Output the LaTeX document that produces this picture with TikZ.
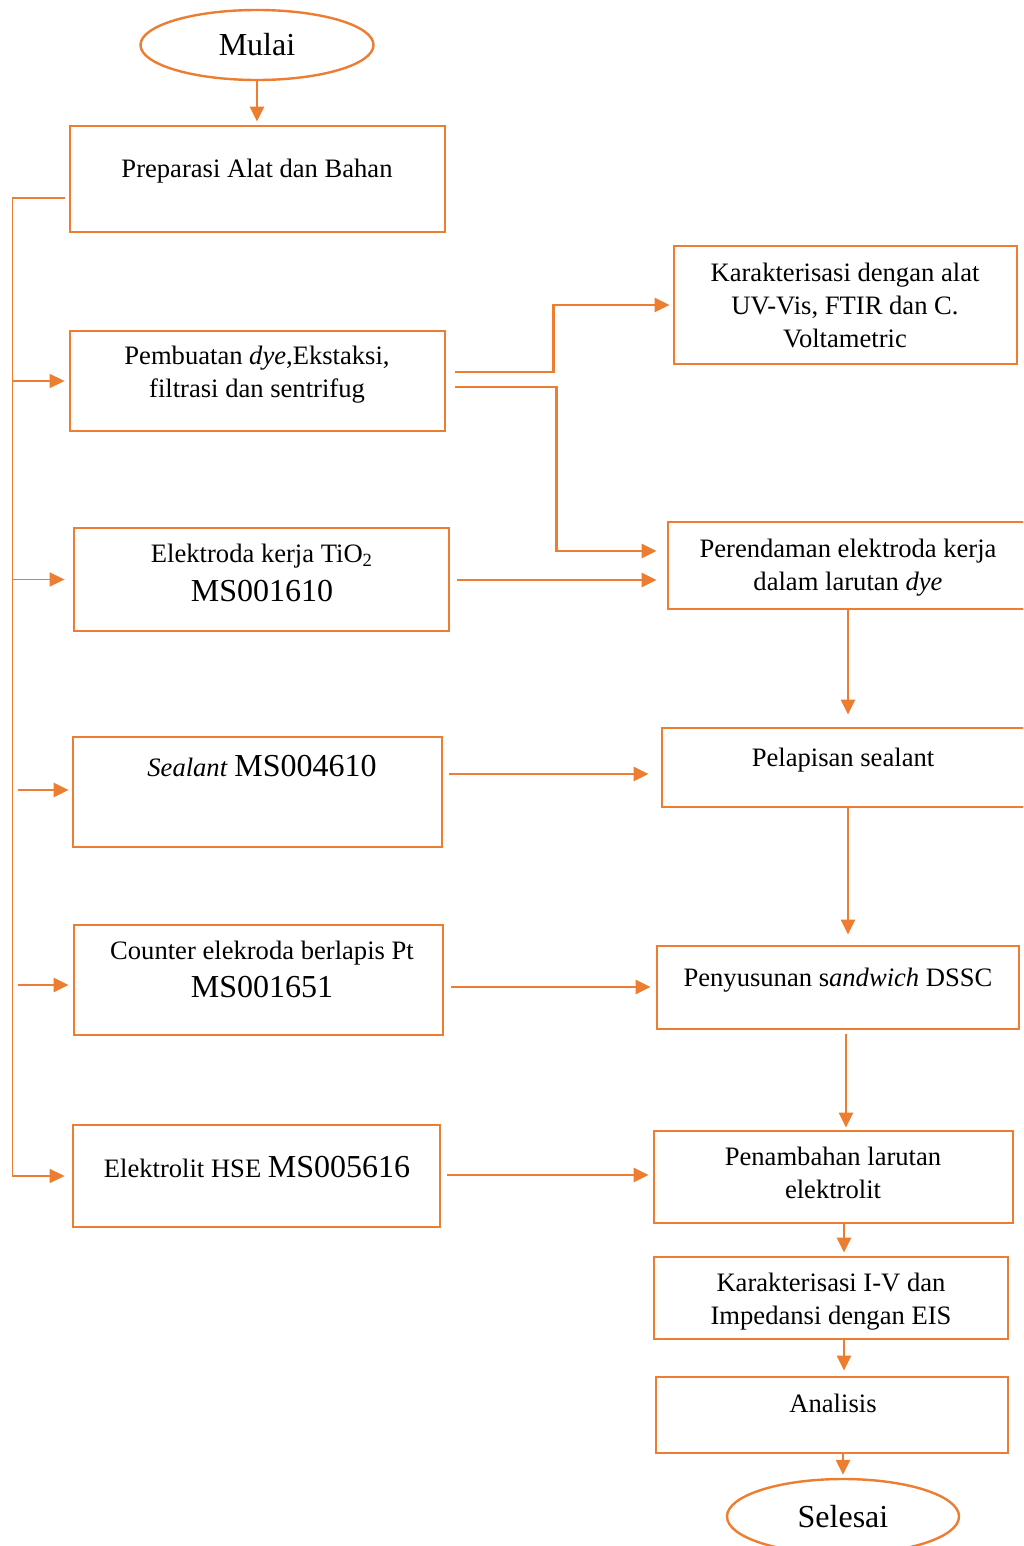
\documentclass[tikz,border=0pt]{standalone}
\usepackage{fontspec}
\setmainfont{Liberation Serif}
\usepackage{tikz}
\usetikzlibrary{positioning,arrows.meta,shapes.geometric,calc}
\definecolor{flowclr}{RGB}{237,125,49}
\newcommand{\msno}[1]{{\fontsize{16}{18}\selectfont #1}}
\tikzset{
    box/.style 2 args={rectangle,draw=flowclr,line width=1.4pt,minimum width=#1,minimum height=#2,inner sep=0pt},
    term/.style={ellipse,draw=flowclr,line width=1.2pt,minimum width=116.5pt,inner sep=0pt,font=\fontsize{16}{18}\selectfont},
    txt/.style={align=center,inner sep=0pt,font=\fontsize{13.3}{16.5}\selectfont},
    arr/.style={draw=flowclr,line width=1.2pt,-{Triangle[length=7.5pt,width=7pt]}},
    bus/.style={arr,line width=0.8pt},
}

\begin{document}
\begin{tikzpicture}[x=0.5pt,y=-0.5pt]
\useasboundingbox (0,0) rectangle (1023,1546);
\clip (0,0) rectangle (1023,1546);

% left column
\node[term,minimum height=35pt] (start) at (257,45) {Mulai};
\node[box={187.5pt}{53pt}]   (prep) at (257.5,179)  {};
\node[box={187.5pt}{50pt}]   (dye)  at (257.5,381)  {};
\node[box={187.5pt}{51.5pt}] (tio)  at (261.5,579.5) {};
\node[box={184.5pt}{55pt}]   (seal) at (257.5,792)  {};
\node[box={184.5pt}{55pt}]   (pt)   at (258.5,980)  {};
\node[box={183.5pt}{51pt}]   (hse)  at (256.5,1176) {};

\node[txt] (prepT) at (257,171) {Preparasi Alat dan Bahan};
\node[txt] (dyeT)  at (257,375) {Pembuatan \textit{dye},Ekstaksi,\\filtrasi dan sentrifug};
\node[txt] (tioT)  at (262,573) {Elektroda kerja TiO\textsubscript{2}\\[3pt]\msno{MS001610}};
\node[txt] (sealT) at (262,766) {\textit{Sealant} \msno{MS004610}};
\node[txt] (ptT)   at (262,969.5) {Counter elekroda berlapis Pt\\[2.5pt]\msno{MS001651}};
\node[txt] (hseT)  at (257,1167) {Elektrolit HSE \msno{MS005616}};

% right column
\node[box={171.5pt}{59pt}]   (kar)  at (845.5,305)  {};
\node[box={180pt}{43.5pt}]   (rend) at (848,565.5)  {};
\node[box={186pt}{39.5pt}]   (lap)  at (848,767.5)  {};
\node[box={181pt}{41.5pt}]   (sus)  at (838,987.5)  {};
\node[box={179.5pt}{46pt}]   (tam)  at (833.5,1177) {};
\node[box={177pt}{41pt}]     (iv)   at (831,1298)   {};
\node[box={176pt}{38pt}]     (ana)  at (832,1415)   {};
\node[term,minimum width=116pt,minimum height=37.5pt] (stop) at (843,1516.5) {Selesai};

\node[txt] (karT)  at (845,305)  {Karakterisasi dengan alat\\UV-Vis, FTIR dan C.\\Voltametric};
\node[txt] (rendT) at (848,567.5) {Perendaman elektroda kerja\\dalam larutan \textit{dye}};
\node[txt] (lapT)  at (843,760)  {Pelapisan sealant};
\node[txt] (susT)  at (838,980)  {Penyusunan s\textit{andwich} DSSC};
\node[txt] (tamT)  at (833,1173) {Penambahan larutan\\elektrolit};
\node[txt] (ivT)   at (831,1302) {Karakterisasi I-V dan\\Impedansi dengan EIS};
\node[txt] (anaT)  at (833,1403) {Analisis};

% feed line on the left
\coordinate[left=29.5pt of hse.west] (bus);
\coordinate[right=2.5pt of bus] (bus2);
\draw[arr,shorten >=1.5pt] (start.south) -- (start.south |- prep.north);
\draw[bus,shorten >=3.5pt] ($(prep.west)+(-4,19)$) -| (bus) -- (hse.west);
\draw[bus,shorten >=2pt] (bus |- dye.west) -- (dye.west);
\draw[bus,shorten >=4pt] (bus |- tio.west) -- (tio.west);
\draw[arr,shorten >=1.5pt] ($(bus2 |- seal.west)+(0,-2)$) coordinate (l4) -- (l4 -| seal.west);
\draw[arr,shorten >=2pt] ($(bus2 |- pt.west)+(0,5)$) coordinate (l5) -- (l5 -| pt.west);

% across
\draw[arr,shorten >=1.5pt] ($(dye.east)+(9,-9)$) -- ++(98,0) |- (kar.west);
\draw[arr,shorten >=5pt] ($(dye.east)+(9,6)$) -- ++(101,0) |- ($(rend.west)+(0,-14.5)$);
\draw[arr,shorten >=5pt] ($(tio.east)+(7,0.5)$) coordinate (h3) -- (h3 -| rend.west);
\draw[arr,shorten >=6pt] ($(seal.east)+(6,-18)$) coordinate (h4) -- (h4 -| lap.west);
\draw[arr,shorten >=2.5pt] ($(pt.east)+(7,7)$) coordinate (h5) -- (h5 -| sus.west);
\draw[arr,shorten >=2pt] ($(hse.east)+(6,-1)$) coordinate (h6) -- (h6 -| tam.west);

% down the right column
\draw[arr,shorten >=6pt] (rend.south) -- (lap.north);
\draw[arr,shorten >=5pt] (lap.south) -- (lap.south |- sus.north);
\draw[arr,shorten >=1pt] ($(sus.south)+(8,4)$) coordinate (v3) -- (v3 |- tam.north);
\draw[arr,shorten >=1.5pt] ($(tam.south)+(10.5,0)$) coordinate (v4) -- (v4 |- iv.north);
\draw[arr,shorten >=2.5pt] ($(iv.south)+(13,0)$) coordinate (v5) -- (v5 |- ana.north);
\draw[arr,shorten >=1.5pt] ($(ana.south)+(11,0)$) coordinate (v6) -- (v6 |- stop.north);
\end{tikzpicture}
\end{document}
